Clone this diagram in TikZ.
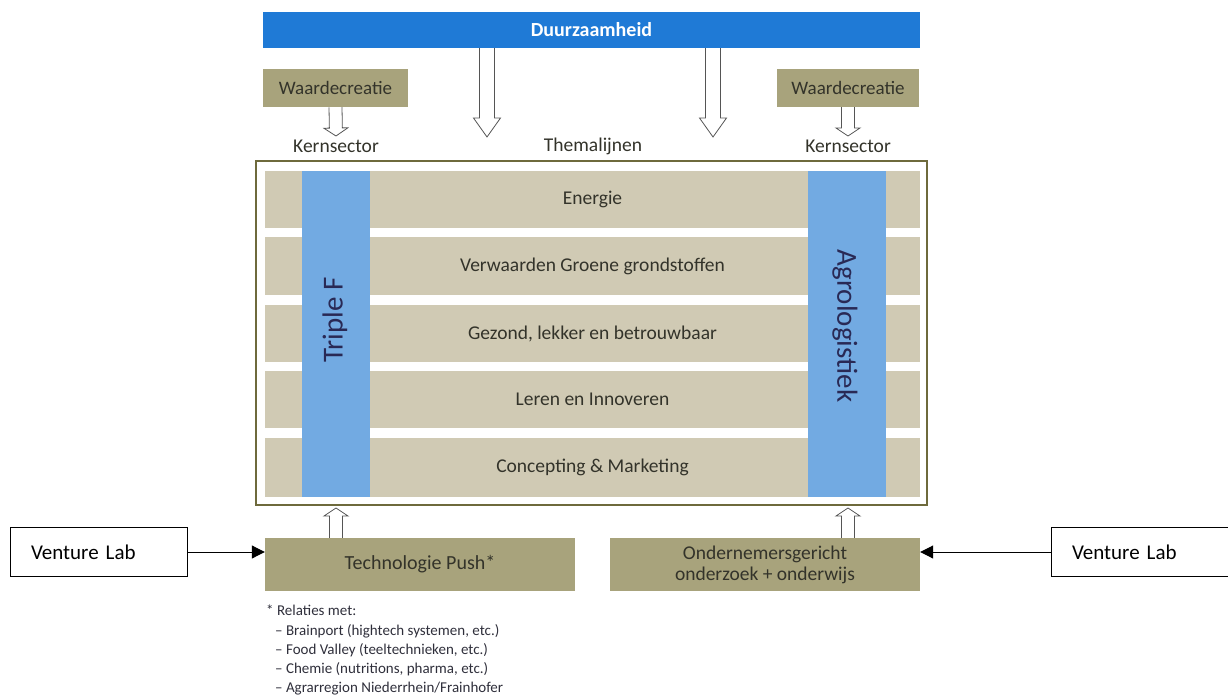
\documentclass[tikz,border=0pt]{standalone}
\usepackage{fontspec}
\setmainfont{Carlito}
\usetikzlibrary{calc,arrows.meta}
\definecolor{barblue}{HTML}{1F7AD6}
\definecolor{colblue}{HTML}{72AAE2}
\definecolor{olivebox}{HTML}{A8A37C}
\definecolor{rowtan}{HTML}{D0CAB4}
\definecolor{framecol}{HTML}{6E6A3C}
\definecolor{txtdark}{HTML}{33332A}
\definecolor{arrgray}{HTML}{555555}
\tikzset{
  rowbox/.style={fill=rowtan, draw=none, minimum width=655pt, inner sep=0pt, text=txtdark, font=\fontsize{19.5}{22}\selectfont},
  colbox/.style={fill=colblue, draw=none, minimum height=326pt, inner sep=0pt},
  coltext/.style={text=txtdark!80!blue, font=\fontsize{29}{32}\selectfont, inner sep=0pt},
  olive/.style={fill=olivebox, draw=none, inner sep=0pt, text=txtdark, font=\fontsize{19.5}{21}\selectfont, align=center},
  lbl/.style={inner sep=0pt, text=txtdark, font=\fontsize{19.5}{22}\selectfont},
  vlbox/.style={draw=black, line width=1pt, fill=white, text width=135pt, align=left, inner xsep=21pt, minimum height=49pt, inner ysep=0pt, font=\fontsize{21}{24}\selectfont},
  harrow/.style={draw=arrgray, line width=0.8pt, fill=white},
  vlarrow/.style={draw=black, line width=1pt, -{Triangle[length=13pt,width=13pt]}},
}
% #1 start, #2 tip, #3 half shaft width, #4 half head width, #5 head length
\newcommand{\hollowarrow}[5]{%
  \coordinate (hb) at ($#2!#5!#1$);
  \draw[harrow] ($#1!#3!90:#2$) -- ($(hb)!#3!-90:#1$) -- ($(hb)!#4!-90:#1$) -- #2 -- ($(hb)!#4!90:#1$) -- ($(hb)!#3!90:#1$) -- ($#1!#3!-90:#2$);
}
\begin{document}
\begin{tikzpicture}[x=1pt,y=-1pt]
\useasboundingbox (0,0) rectangle (1228,698);
% top bar
\node[fill=barblue, minimum width=657pt, minimum height=36pt, inner sep=0pt, text=white, font=\bfseries\fontsize{20}{22}\selectfont] (duur) at (591.5,30) {Duurzaamheid};
% waardecreatie boxes
\node[olive, minimum width=145pt, minimum height=38pt, font=\fontsize{19}{21}\selectfont] (wl) at (335.5,88) {Waardecreatie};
\node[olive, minimum width=142pt, minimum height=38pt, font=\fontsize{19}{21}\selectfont] (wr) at (848,88) {Waardecreatie};
% labels
\node[lbl] (kl) at (336,146) {Kernsector};
\node[lbl] (kr) at (848,146) {Kernsector};
\node[lbl] (thema) at (593,146) {Themalijnen};
% frame
\draw[draw=framecol, line width=2pt] (256,161) rectangle (927,505);
% rows
\node[rowbox, minimum height=57pt] (r1) at (592.5,199.5) {Energie};
\node[rowbox, minimum height=58pt] (r2) at (592.5,266) {Verwaarden Groene grondstoffen};
\node[rowbox, minimum height=57pt] (r3) at (592.5,333.5) {Gezond, lekker en betrouwbaar};
\node[rowbox, minimum height=57pt] (r4) at (592.5,399.5) {Leren en Innoveren};
\node[rowbox, minimum height=59pt] (r5) at (592.5,467.5) {Concepting \& Marketing};
% columns
\node[colbox, minimum width=68pt] (tf) at (336,334) {};
\node[colbox, minimum width=78pt] (ag) at (847,334) {};
\node[coltext, rotate=90] (tft) at (335,320) {Triple F};
\node[coltext, rotate=-90] (agt) at (845,326) {Agrologistiek};
% bottom boxes
\node[olive, minimum width=310pt, minimum height=53pt, font=\fontsize{20}{22}\selectfont] (tp) at (420,564.5) {Technologie Push*};
\node[olive, minimum width=310pt, minimum height=53pt, font=\fontsize{19.5}{21}\selectfont] (ond) at (765,564.5) {Ondernemersgericht\\onderzoek + onderwijs};
% venture lab
\node[vlbox] (vl1) at (98.5,552) {Venture Lab};
\node[vlbox] (vl2) at (1139.5,552) {Venture Lab};
\draw[vlarrow] (vl1.east) -- (vl1.east -| tp.west);
\draw[vlarrow] (vl2.west) -- (vl2.west -| ond.east);
% hollow arrows
\coordinate (a1s) at ($(duur.south)+(-104.5,0)$);
\coordinate (a1t) at (487,137);
\coordinate (a2s) at ($(duur.south)+(121.5,0)$);
\coordinate (a2t) at (713,137);
\hollowarrow{(a1s)}{(a1t)}{7.5pt}{13.5pt}{19pt}
\hollowarrow{(a2s)}{(a2t)}{7.5pt}{13.5pt}{19pt}
\coordinate (w1s) at (wl.south);
\coordinate (w1t) at (336,136);
\coordinate (w2s) at (wr.south);
\coordinate (w2t) at (848,136);
\hollowarrow{(w1s)}{(w1t)}{6.5pt}{12pt}{8pt}
\hollowarrow{(w2s)}{(w2t)}{6.5pt}{12pt}{8pt}
\coordinate (b1s) at ($(tp.north)+(-84,0)$);
\coordinate (b1t) at (336,508);
\coordinate (b2s) at ($(ond.north)+(83,0)$);
\coordinate (b2t) at (848,508);
\hollowarrow{(b1s)}{(b1t)}{6.5pt}{12pt}{8pt}
\hollowarrow{(b2s)}{(b2t)}{6.5pt}{12pt}{8pt}
% footnote
\node[anchor=north west, align=left, inner sep=0pt, text=txtdark!92!blue, font=\fontsize{15}{19.2}\selectfont] (fn) at (266,605) {%
* Relaties met:\\
\hspace*{9pt}– Brainport (hightech systemen, etc.)\\
\hspace*{9pt}– Food Valley (teeltechnieken, etc.)\\
\hspace*{9pt}– Chemie (nutritions, pharma, etc.)\\
\hspace*{9pt}– Agrarregion Niederrhein/Frainhofer};
\end{tikzpicture}
\end{document}
